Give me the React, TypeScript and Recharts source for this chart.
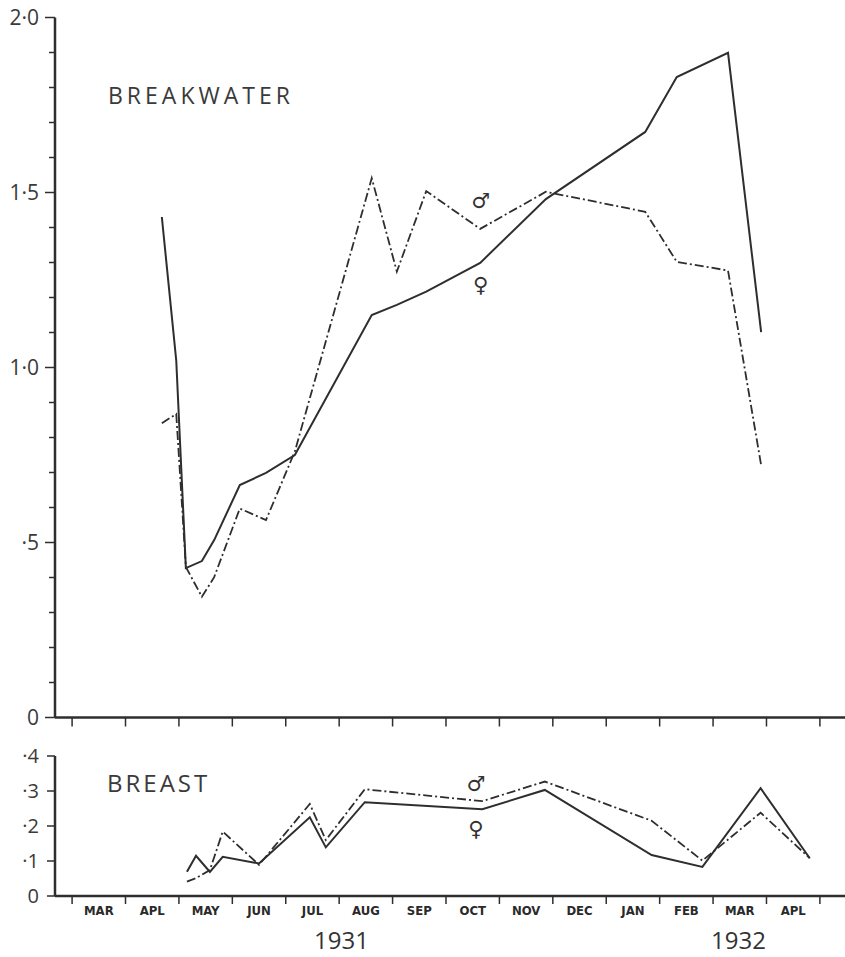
import React from "react";
import { LineChart, Line, XAxis, YAxis, ReferenceDot } from "recharts";

// month boundaries: 0 = start of MAR 1931 ... 14 = end of APL 1932
const MONTHS = ["MAR", "APL", "MAY", "JUN", "JUL", "AUG", "SEP", "OCT", "NOV", "DEC", "JAN", "FEB", "MAR", "APL"];
const MONTH_EDGES = [0, 1, 2, 3, 4, 5, 6, 7, 8, 9, 10, 11, 12, 13, 14];
const MONTH_MIDS = [0.5, 1.5, 2.5, 3.5, 4.5, 5.5, 6.5, 7.5, 8.5, 9.5, 10.5, 11.5, 12.5, 13.5];

// Breakwater samples (time in months from start of MAR 1931)
const BW_TIME = [1.68, 1.95, 2.13, 2.43, 2.66, 3.14, 3.63, 4.17, 5.61, 6.08, 6.63, 7.64, 8.87, 10.73, 11.32, 12.28, 12.9];
const BW_FEMALE = [1.43, 1.02, 0.427, 0.447, 0.507, 0.664, 0.699, 0.75, 1.15, 1.179, 1.217, 1.299, 1.481, 1.673, 1.83, 1.899, 1.101];
const BW_MALE = [0.841, 0.867, 0.43, 0.345, 0.401, 0.597, 0.564, 0.76, 1.541, 1.274, 1.504, 1.396, 1.502, 1.445, 1.302, 1.277, 0.721];

// Breast samples
const BR_TIME = [2.15, 2.32, 2.58, 2.82, 3.5, 4.45, 4.75, 5.48, 7.68, 8.85, 10.85, 11.8, 12.89, 13.81];
const BR_FEMALE = [0.069, 0.115, 0.069, 0.112, 0.093, 0.225, 0.139, 0.268, 0.248, 0.303, 0.117, 0.083, 0.308, 0.108];
const BR_MALE = [0.041, 0.051, 0.074, 0.184, 0.089, 0.263, 0.16, 0.305, 0.271, 0.327, 0.215, 0.101, 0.238, 0.108];

const TOP_Y_TICKS = [0, 0.1, 0.2, 0.3, 0.4, 0.5, 0.6, 0.7, 0.8, 0.9, 1.0, 1.1, 1.2, 1.3, 1.4, 1.5, 1.6, 1.7, 1.8, 1.9, 2.0];
const TOP_Y_LABELS: Record<string, string> = { "0": "0", "0.5": "·5", "1": "1·0", "1.5": "1·5", "2": "2·0" };
const BOT_Y_TICKS = [0, 0.1, 0.2, 0.3, 0.4];
const BOT_Y_LABELS: Record<string, string> = { "0": "0", "0.1": "·1", "0.2": "·2", "0.3": "·3", "0.4": "·4" };

const INK = "#2e2e2e";
const LABEL_FONT = "'Open Sans', 'DejaVu Sans', sans-serif";
const X_DOMAIN: [number, number] = [-0.32, 14.47];
const DASH = "9 3 2 3";

const bwData = BW_TIME.map((m, i) => ({ m, female: BW_FEMALE[i], male: BW_MALE[i] }));
const brData = BR_TIME.map((m, i) => ({ m, female: BR_FEMALE[i], male: BR_MALE[i] }));

function makeYTick(labels: Record<string, string>, majorLen: number, minorLen: number, size: number) {
  return (props: any) => {
    const { x, y, payload } = props;
    const key = String(Math.round(payload.value * 10) / 10);
    const label = labels[key];
    return (
      <g>
        <line x1={x - (label ? majorLen : minorLen)} x2={x} y1={y} y2={y} stroke={INK} strokeWidth={1.5} />
        {label && (
          <text x={x - 16} y={y} dy="0.36em" textAnchor="end" fill="#3a3a3a"
            style={{ fontFamily: LABEL_FONT, fontSize: size, fontWeight: 400 }}>
            {label}
          </text>
        )}
      </g>
    );
  };
}

const symbolStyle = { fontFamily: "'DejaVu Sans', sans-serif", fontSize: 21, fill: "#333" };
const monthTick = { fill: "#2a2a2a", fontSize: 13, fontWeight: 700, fontFamily: "'DejaVu Sans Condensed', 'Liberation Sans Narrow', sans-serif" };

export default function App() {
  return (
    <div style={{ position: "absolute", left: 0, top: 0, width: 845, height: 957, background: "#fff" }}>
      {/* Breakwater */}
      <div style={{ position: "absolute", left: 0, top: 0 }}>
        <LineChart width={845} height={740} data={bwData} margin={{ top: 17.5, right: 0, bottom: 2.5, left: 0 }}>
          <XAxis dataKey="m" type="number" domain={X_DOMAIN} ticks={MONTH_EDGES} interval={0} allowDataOverflow
            height={20} tickSize={9} tickFormatter={() => ""} axisLine={{ stroke: INK, strokeWidth: 2.5 }}
            tickLine={{ stroke: INK, strokeWidth: 1.5 }} />
          <YAxis type="number" domain={[0, 2]} ticks={TOP_Y_TICKS} interval={0} width={55}
            tickSize={0} tickMargin={0} tickLine={false} axisLine={{ stroke: INK, strokeWidth: 2.5 }}
            tick={makeYTick(TOP_Y_LABELS, 10, 6, 21)} />
          <Line type="linear" dataKey="female" stroke={INK} strokeWidth={2} dot={false} isAnimationActive={false} />
          <Line type="linear" dataKey="male" stroke={INK} strokeWidth={1.8} strokeDasharray={DASH} dot={false} isAnimationActive={false} />
          <ReferenceDot x={7.65} y={1.476} r={0} label={{ value: "♂", position: "center", style: symbolStyle }} />
          <ReferenceDot x={7.65} y={1.236} r={0} label={{ value: "♀", position: "center", style: symbolStyle }} />
        </LineChart>
      </div>
      <div style={{ position: "absolute", left: 108, top: 84, fontFamily: LABEL_FONT, fontSize: 23,
        color: "#3a3a3a", letterSpacing: 4, lineHeight: 1 }}>
        BREAKWATER
      </div>

      {/* Breast */}
      <div style={{ position: "absolute", left: 0, top: 740 }}>
        <LineChart width={845} height={190} data={brData} margin={{ top: 16, right: 0, bottom: 0, left: 0 }}>
          <XAxis dataKey="m" type="number" domain={X_DOMAIN} ticks={MONTH_EDGES} interval={0} allowDataOverflow
            height={1} tickSize={8} tickFormatter={() => ""} axisLine={{ stroke: INK, strokeWidth: 2.5 }}
            tickLine={{ stroke: INK, strokeWidth: 1.5 }} />
          <XAxis xAxisId="lab" dataKey="m" type="number" domain={X_DOMAIN} ticks={MONTH_MIDS} interval={0} allowDataOverflow
            height={33} tickSize={0} tickMargin={9} axisLine={false} tickLine={false}
            tickFormatter={(v: number) => MONTHS[Math.floor(v)]} tick={monthTick} />
          <YAxis type="number" domain={[0, 0.4]} ticks={BOT_Y_TICKS} interval={0} width={55}
            tickSize={0} tickMargin={0} tickLine={false} axisLine={{ stroke: INK, strokeWidth: 2.5 }}
            tick={makeYTick(BOT_Y_LABELS, 8, 8, 20)} />
          <Line type="linear" dataKey="female" stroke={INK} strokeWidth={2} dot={false} isAnimationActive={false} />
          <Line type="linear" dataKey="male" stroke={INK} strokeWidth={1.8} strokeDasharray={DASH} dot={false} isAnimationActive={false} />
          <ReferenceDot x={7.56} y={0.32} r={0} label={{ value: "♂", position: "center", style: symbolStyle }} />
          <ReferenceDot x={7.56} y={0.194} r={0} label={{ value: "♀", position: "center", style: symbolStyle }} />
        </LineChart>
      </div>
      <div style={{ position: "absolute", left: 107, top: 771, fontFamily: LABEL_FONT, fontSize: 24,
        color: "#3a3a3a", letterSpacing: 3, lineHeight: 1 }}>
        BREAST
      </div>

      {/* years */}
      <div style={{ position: "absolute", left: 314, top: 928, fontFamily: LABEL_FONT, fontSize: 24,
        color: "#333", letterSpacing: 0, lineHeight: 1 }}>
        1931
      </div>
      <div style={{ position: "absolute", left: 711, top: 928, fontFamily: LABEL_FONT, fontSize: 24,
        color: "#333", letterSpacing: 0, lineHeight: 1 }}>
        1932
      </div>
    </div>
  );
}
